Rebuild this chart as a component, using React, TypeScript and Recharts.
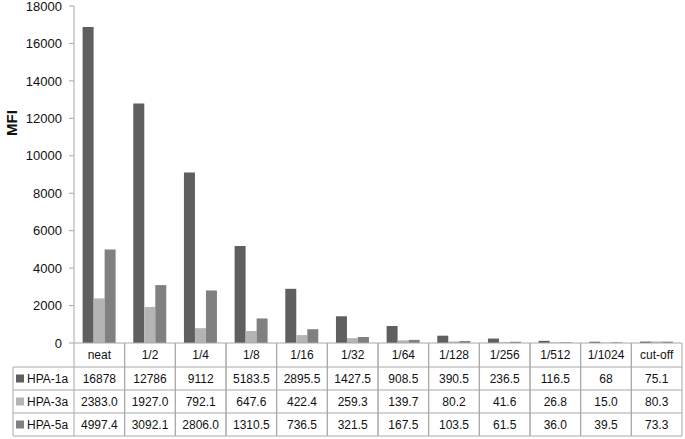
import React from "react";
import { BarChart, Bar, XAxis, YAxis } from "recharts";

const categories = ["neat", "1/2", "1/4", "1/8", "1/16", "1/32", "1/64", "1/128", "1/256", "1/512", "1/1024", "cut-off"];
const hpa1a = [16878, 12786, 9112, 5183.5, 2895.5, 1427.5, 908.5, 390.5, 236.5, 116.5, 68, 75.1];
const hpa3a = [2383.0, 1927.0, 792.1, 647.6, 422.4, 259.3, 139.7, 80.2, 41.6, 26.8, 15.0, 80.3];
const hpa5a = [4997.4, 3092.1, 2806.0, 1310.5, 736.5, 321.5, 167.5, 103.5, 61.5, 36.0, 39.5, 73.3];
const yTicks = [0, 2000, 4000, 6000, 8000, 10000, 12000, 14000, 16000, 18000];

const W = 685;
const H = 439;
const PLOT_LEFT = 74;
const PLOT_RIGHT = 682;
const PLOT_BOTTOM = 343;
const BAND = (PLOT_RIGHT - PLOT_LEFT) / categories.length;
const ROWS = [343, 367, 390, 413, 436]; // table row lines
const LEGEND_LEFT = 13;
const BORDER = "#a8a8a8";
const FONT = "'Liberation Sans', Arial, sans-serif";

const series = [
  { key: "a1", name: "HPA-1a", color: "#5f5f5f", values: hpa1a, fmt: (v: number) => String(v) },
  { key: "a3", name: "HPA-3a", color: "#b4b4b4", values: hpa3a, fmt: (v: number) => v.toFixed(1) },
  { key: "a5", name: "HPA-5a", color: "#808080", values: hpa5a, fmt: (v: number) => v.toFixed(1) },
];

const data = categories.map((c, i) => ({ name: c, a1: hpa1a[i], a3: hpa3a[i], a5: hpa5a[i] }));

// each x tick draws one column of the data table
const TableTick = (props: any) => {
  const { x, payload } = props;
  const i = payload.index;
  const left = x - BAND / 2;
  const right = x + BAND / 2;
  const top = ROWS[0];
  const bottom = ROWS[ROWS.length - 1];
  return (
    <g>
      <line x1={left} y1={top} x2={left} y2={bottom} stroke={BORDER} />
      <line x1={right} y1={top} x2={right} y2={bottom} stroke={BORDER} />
      {ROWS.map((ry, k) => (
        <line key={k} x1={left} y1={ry} x2={right} y2={ry} stroke={BORDER} />
      ))}
      <text x={x} y={(ROWS[0] + ROWS[1]) / 2} textAnchor="middle" dominantBaseline="central" fontSize={12} fontFamily={FONT} fill="#111">
        {payload.value}
      </text>
      {series.map((s, r) => (
        <text key={s.key} x={x} y={(ROWS[r + 1] + ROWS[r + 2]) / 2} textAnchor="middle" dominantBaseline="central" fontSize={12} fontFamily={FONT} fill="#111">
          {s.fmt(s.values[i])}
        </text>
      ))}
      {/* legend column, drawn once */}
      {i === 0 && (
        <g>
          <line x1={LEGEND_LEFT} y1={ROWS[1]} x2={left} y2={ROWS[1]} stroke={BORDER} />
          <line x1={LEGEND_LEFT} y1={ROWS[1]} x2={LEGEND_LEFT} y2={bottom} stroke={BORDER} />
          {ROWS.slice(2).map((ry, k) => (
            <line key={k} x1={LEGEND_LEFT} y1={ry} x2={left} y2={ry} stroke={BORDER} />
          ))}
          {series.map((s, r) => {
            const cy = (ROWS[r + 1] + ROWS[r + 2]) / 2;
            return (
              <g key={s.key}>
                <rect x={LEGEND_LEFT + 3} y={cy - 4} width={8} height={8} fill={s.color} />
                <text x={LEGEND_LEFT + 14} y={cy} dominantBaseline="central" fontSize={12} fontFamily={FONT} fill="#111">
                  {s.name}
                </text>
              </g>
            );
          })}
        </g>
      )}
    </g>
  );
};

export default function App() {
  return (
    <div style={{ position: "absolute", left: 0, top: 0, width: W, height: H, background: "#fff" }}>
      <BarChart
        width={W}
        height={H}
        data={data}
        margin={{ top: 6, right: W - PLOT_RIGHT, bottom: 0, left: 0 }}
        barCategoryGap="17%"
        barGap={0}
      >
        <YAxis
          width={PLOT_LEFT}
          domain={[0, 18000]}
          ticks={yTicks}
          interval={0}
          axisLine={{ stroke: BORDER }}
          tickLine={{ stroke: BORDER }}
          tickSize={5}
          tickMargin={7}
          tick={{ fontSize: 13, fill: "#111", fontFamily: FONT }}
          label={{
            value: "MFI",
            angle: -90,
            position: "insideTopLeft",
            content: () => (
              <text x={11} y={123} transform="rotate(-90 11 123)" textAnchor="middle" dominantBaseline="central" fontSize={15} fontWeight="bold" fontFamily={FONT} fill="#111">
                MFI
              </text>
            ),
          }}
        />
        <XAxis
          dataKey="name"
          height={H - PLOT_BOTTOM}
          interval={0}
          axisLine={false}
          tickLine={false}
          tick={<TableTick />}
        />
        {series.map((s) => (
          <Bar key={s.key} dataKey={s.key} name={s.name} fill={s.color} isAnimationActive={false} />
        ))}
      </BarChart>
    </div>
  );
}
